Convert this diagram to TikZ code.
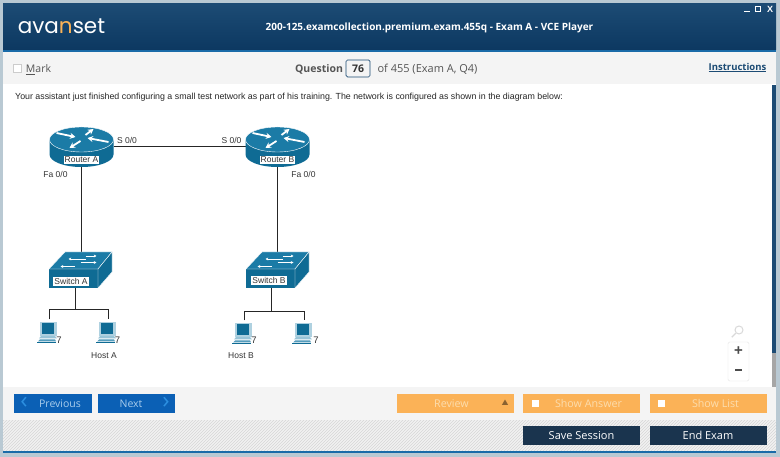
\documentclass[tikz,border=0pt]{standalone}
\usepackage{fontspec}
\setmainfont{Liberation Sans}
\newfontfamily\uifont{Open Sans}
\newfontfamily\logofont{Poppins}
\usetikzlibrary{arrows.meta,patterns,shapes.geometric}
\definecolor{framecol}{HTML}{B9C9D3}
\definecolor{headtop}{HTML}{1C4B74}
\definecolor{headbot}{HTML}{0C3861}
\definecolor{headline}{HTML}{1A6BA8}
\definecolor{barcol}{HTML}{F4F4F4}
\definecolor{navcol}{HTML}{0B60B5}
\definecolor{navtext}{HTML}{A9CDEC}
\definecolor{chevcol}{HTML}{2C8FE0}
\definecolor{orangecol}{HTML}{FBB257}
\definecolor{orangetext}{HTML}{FCDDAE}
\definecolor{darkcol}{HTML}{1A344E}
\definecolor{ciscotop}{HTML}{1B7BA6}
\definecolor{ciscoside}{HTML}{0F6B94}
\definecolor{textcol}{HTML}{333333}
\definecolor{greytext}{HTML}{555555}
\tikzset{
    panel/.style={draw=none, inner sep=0pt, outer sep=0pt},
    navbtn/.style={panel, fill=navcol, text=navtext, minimum height=19pt, font=\uifont\fontsize{10.5}{12}\selectfont},
    orangebtn/.style={panel, fill=orangecol, text=orangetext, minimum width=117pt, minimum height=19pt, font=\uifont\fontsize{10.7}{12}\selectfont},
    darkbtn/.style={panel, fill=darkcol, text=white, minimum width=117pt, minimum height=19pt, font=\uifont\fontsize{11}{12}\selectfont},
    tick/.style={panel, fill=white, minimum width=7pt, minimum height=7pt},
    netlabel/.style={inner sep=0pt, text=textcol, font=\fontsize{8.5}{10}\selectfont},
    devlabel/.style={fill=white, inner sep=1.2pt, text=textcol, font=\fontsize{8.5}{10}\selectfont},
    routerbox/.style={inner sep=0pt, outer sep=0pt, minimum width=64pt, minimum height=40pt},
    switchbox/.style={inner sep=0pt, outer sep=0pt, minimum width=63pt, minimum height=36pt},
    hostbox/.style={inner sep=0pt, outer sep=0pt, minimum width=20pt, minimum height=23pt},
    netlink/.style={draw=black!85, line width=1pt},
    whitearrow/.style={white, line width=1.8pt, -{Stealth[length=5.5pt,width=6pt]}},
    thinarrow/.style={white, line width=0.6pt, -{Stealth[length=2.8pt,width=2.8pt]}},
    routericon/.pic={
        \fill[ciscoside] (-32,-7.5) -- (-32,7.5) arc[x radius=32, y radius=12.5, start angle=180, end angle=0] -- (32,-7.5) -- cycle;
        \draw[white, line width=0.4pt, fill=ciscotop] (0,-7.5) ellipse[x radius=32, y radius=12.5];
        \draw[whitearrow] (-25,-14) -- (-6,-10);
        \draw[whitearrow] (4,-12) -- (12,-18);
        \draw[whitearrow] (27,-5) -- (6,-9);
        \draw[whitearrow] (-1,-6) -- (-12,1);
    },
    switchicon/.pic={
        \fill[ciscoside] (-31.5,-1) rectangle (17.5,18);
        \draw[white, line width=0.4pt, fill=ciscotop] (-31.5,-1) -- (-15.5,-18) -- (31.5,-18) -- (17.5,-1) -- cycle;
        \draw[white, line width=0.4pt, fill=ciscoside] (17.5,-1) -- (31.5,-18) -- (31.5,2) -- (17.5,18) -- cycle;
        \draw[thinarrow] (5,-11) -- (-12,-11);
        \draw[thinarrow] (5,-14) -- (16,-14);
        \draw[thinarrow] (-6,-3.5) -- (-20,-3.5);
        \draw[thinarrow] (0,-7.5) -- (16,-7.5);
    },
    hosticon/.pic={
        \fill[ciscotop!35] (-9,-9) rectangle (8,5);
        \fill[ciscoside] (-7,-7.5) rectangle (5,3.5);
        \fill[ciscotop!45] (-8,5) -- (6,5) -- (8,7.5) -- (-10,7.5) -- cycle;
        \fill[ciscotop!75] (-9,8.5) -- (6,8.5) -- (7,10.5) -- (-11,10.5) -- cycle;
        \draw[ciscoside, line width=0.9pt] (-12,11.8) -- (7,11.8);
    },
}
\begin{document}
\begin{tikzpicture}[x=1pt, y=-1pt]
    \useasboundingbox (0,0) rectangle (780,457);
    \fill[framecol] (0,0) rectangle (780,457);
    \shade[top color=headtop, bottom color=headbot] (3,4) rectangle (776,50);
    \fill[headline] (3,50) rectangle (776,52);
    \fill[barcol] (3,52) rectangle (776,84);
    \fill[white] (3,84) rectangle (776,387);
    \fill[black!35] (772,85) rectangle (776,387);
    \fill[headtop] (772,85) rectangle (776,353);
    \fill[barcol] (3,387) rectangle (776,420);
    \fill[white!95!black] (3,420) rectangle (776,451);
    \fill[pattern=north east lines, pattern color=black!16] (3,420) rectangle (776,451);
    \fill[headline] (3,451) rectangle (776,453);

    \node (logo) [inner sep=0pt, text=white, font=\logofont\fontsize{21.5}{24}\selectfont] at (61.5,26) {ava{\color{orangecol}n}set};
    \node (title) [inner sep=0pt, text=white, font=\uifont\bfseries\fontsize{10}{12}\selectfont] at (429.5,28) {200-125.examcollection.premium.exam.455q - Exam A - VCE Player};
    \node (winmin) [panel, fill=white, minimum width=6pt, minimum height=1.5pt] at (747,11.5) {};
    \node (winmax) [draw=white, line width=0.9pt, inner sep=0pt, minimum width=5pt, minimum height=5pt] at (758,9) {};
    \node (winclose) [inner sep=0pt, text=white, font=\bfseries\fontsize{9}{10}\selectfont] at (770,9) {X};

    \node (markbox) [draw=black!20, fill=white, inner sep=0pt, minimum width=8pt, minimum height=8pt] at (17.5,68.5) {};
    \node (mark) [inner sep=0pt, text=greytext, font=\uifont\fontsize{10.5}{12}\selectfont] at (38.5,70) {\underline{M}ark};
    \node (question) [inner sep=0pt, text=greytext, font=\uifont\bfseries\fontsize{10.5}{12}\selectfont] at (319,69) {Question};
    \node (qnum) [draw=headtop, rounded corners=1.5pt, line width=0.7pt, inner sep=0pt, minimum width=24pt, minimum height=17pt, text=black!80, font=\uifont\bfseries\fontsize{10.5}{12}\selectfont] at (358,68.5) {76};
    \node (qtotal) [inner sep=0pt, text=greytext, font=\uifont\fontsize{11}{12}\selectfont] at (427.5,69) {of 455 (Exam A, Q4)};
    \node (instructions) [inner sep=0pt, text=headtop, font=\uifont\bfseries\fontsize{9.5}{12}\selectfont] at (737.5,67.5) {\underline{Instructions}};
    \node (intro) [anchor=west, inner sep=0pt, text=black!85, font=\fontsize{8.83}{10}\selectfont] at (15,97) {Your assistant just finished configuring a small test network as part of his training. The network is configured as shown in the diagram below:};

    \node (routerA) [routerbox] at (81.5,147) {};
    \node (routerB) [routerbox] at (277.5,147) {};
    \node (switchA) [switchbox] at (80.5,270) {};
    \node (switchB) [switchbox] at (277.5,270) {};
    \node (hostA1) [hostbox] at (49,331) {};
    \node (hostA2) [hostbox] at (108,331) {};
    \node (hostB1) [hostbox] at (244,332) {};
    \node (hostB2) [hostbox] at (304,332) {};
    \coordinate (busA) at (75,310);
    \coordinate (busB) at (271,312);

    \draw[netlink] (routerA.east) -- (routerB.west);
    \draw[netlink] (routerA.south) -- (routerA.south |- switchA.north);
    \draw[netlink] (routerB.south) -- (routerB.south |- switchB.north);
    \draw[netlink] (busA |- switchA.south) -- (busA);
    \draw[netlink] (busB |- switchB.south) -- (busB);
    \draw[netlink] (hostA1.north) |- (hostA2.north |- busA) -- (hostA2.north);
    \draw[netlink] (hostB1.north) |- (hostB2.north |- busB) -- (hostB2.north);

    \pic at (routerA) {routericon};
    \pic at (routerB) {routericon};
    \pic at (switchA) {switchicon};
    \pic at (switchB) {switchicon};
    \pic at (hostA1) {hosticon};
    \pic at (hostA2) {hosticon};
    \pic at (hostB1) {hosticon};
    \pic at (hostB2) {hosticon};

    \node (routerAname) [devlabel] at (81.5,160) {Router A};
    \node (routerBname) [devlabel] at (277.5,160) {Router B};
    \node (switchAname) [devlabel] at (71,281.5) {Switch A};
    \node (switchBname) [devlabel] at (269,280.5) {Switch B};
    \node (serialA) [netlabel] at (127,140) {S 0/0};
    \node (serialB) [netlabel] at (231.5,140) {S 0/0};
    \node (fastA) [netlabel] at (55.5,174) {Fa 0/0};
    \node (fastB) [netlabel] at (303.5,174) {Fa 0/0};
    \node (hostAname) [netlabel] at (104,356) {Host A};
    \node (hostBname) [netlabel] at (241,356) {Host B};
    \node (askA1) [netlabel, font=\fontsize{9.5}{10}\selectfont] at (59,340.5) {7};
    \node (askA2) [netlabel, font=\fontsize{9.5}{10}\selectfont] at (117.5,340.5) {7};
    \node (askB1) [netlabel, font=\fontsize{9.5}{10}\selectfont] at (254,340.5) {7};
    \node (askB2) [netlabel, font=\fontsize{9.5}{10}\selectfont] at (316,340.5) {7};

    \node (zoomglass) [inner sep=0pt, draw=black!15, circle, line width=1pt, minimum size=8pt] at (739,330) {};
    \draw[black!15, line width=1.2pt] (zoomglass.south west) -- +(-4,4);
    \node (zoombox) [draw=black!10, fill=white, rounded corners=1.5pt, inner sep=0pt, minimum width=21pt, minimum height=39pt] at (738.5,361.5) {};
    \node (zoomin) [inner sep=0pt, text=black!70, font=\bfseries\fontsize{15}{16}\selectfont] at (738.5,351.5) {+};
    \node (zoomout) [panel, fill=black!70, minimum width=7.5pt, minimum height=2pt] at (738.5,370.5) {};

    \node (previous) [navbtn, minimum width=78pt] at (53,403.5) {\hspace{14pt}Previous};
    \node (next) [navbtn, minimum width=77pt] at (136.5,403.5) {\hspace{-11pt}Next};
    \node (prevarrow) [inner sep=0pt, text=chevcol, font=\uifont\fontsize{24}{24}\selectfont] at (24,402.5) {‹};
    \node (nextarrow) [inner sep=0pt, text=chevcol, font=\uifont\fontsize{24}{24}\selectfont] at (166,402.5) {›};
    \node (review) [orangebtn] at (455.5,403.5) {\hspace{-8pt}Review};
    \node (reviewmark) [regular polygon, regular polygon sides=3, fill=black!45!orangecol, inner sep=0pt, minimum size=7pt] at (505,403) {};
    \node (showanswer) [orangebtn] at (581.5,403.5) {\hspace{14pt}Show Answer};
    \node (showlist) [orangebtn] at (708.5,403.5) {\hspace{14pt}Show List};
    \node (answertick) [tick] at (535,403.5) {};
    \node (listtick) [tick] at (661,403.5) {};
    \node (savesession) [darkbtn] at (581.5,435.5) {Save Session};
    \node (endexam) [darkbtn] at (708,435.5) {End Exam};
\end{tikzpicture}
\end{document}
